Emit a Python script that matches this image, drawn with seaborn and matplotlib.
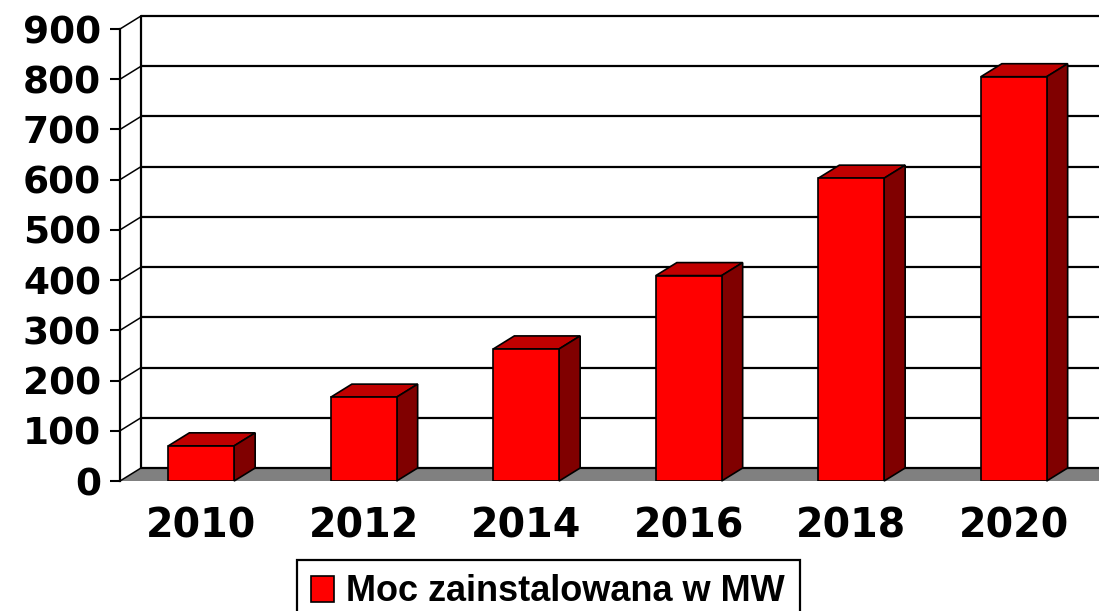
import matplotlib
matplotlib.use("Agg")
import matplotlib.pyplot as plt
from matplotlib.patches import Polygon, Patch
import seaborn as sns
import pandas as pd

years = ["2010", "2012", "2014", "2016", "2018", "2020"]
values = [70, 167, 263, 409, 603, 805]
y_ticks = [0, 100, 200, 300, 400, 500, 600, 700, 800, 900]
legend_label = "Moc zainstalowana w MW"

sns.set_theme(style="white")
plt.rcParams["font.family"] = ["DejaVu Sans"]
plt.rcParams["font.weight"] = "bold"
plt.rcParams["text.color"] = "black"
plt.rcParams["xtick.color"] = "black"
plt.rcParams["ytick.color"] = "black"
plt.rcParams["xtick.labelcolor"] = "black"
plt.rcParams["ytick.labelcolor"] = "black"

W, H = 1099, 611
fig = plt.figure(figsize=(W / 100, H / 100), dpi=100)
ax = fig.add_axes([120 / W, 130 / H, 975 / W, 452 / H])
ax.set_facecolor("none")
fig.patch.set_facecolor("white")

df = pd.DataFrame({"Rok": years, "Moc": values})
sns.barplot(data=df, x="Rok", y="Moc", color="#FF0000", saturation=1, width=0.405,
            edgecolor="black", linewidth=1.2, ax=ax, zorder=6)

ax.set_xlim(-0.5, 5.5)
ax.set_ylim(0, 900)

# depth of 3D effect in data units (21 px right, 13 px up)
dx = 21 / 975 * 6
dy = 13 / 452 * 900

# floor
ax.add_patch(Polygon([(-0.5, 0), (5.5 + 1, 0), (5.5 + 1 + dx, dy), (-0.5 + dx, dy)],
                     closed=True, facecolor="#808080", edgecolor="none", zorder=1, clip_on=False))
# back wall gridlines and side-wall diagonals
for v in y_ticks:
    ax.plot([-0.5 + dx, 7], [v + dy, v + dy], color="black", lw=1.6, zorder=2,
            clip_on=False, solid_capstyle="butt")
    ax.plot([-0.5, -0.5 + dx], [v, v + dy], color="black", lw=1.1, zorder=2, clip_on=False)
# back wall left edge
ax.plot([-0.5 + dx, -0.5 + dx], [dy, 900 + dy], color="black", lw=1.6, zorder=2, clip_on=False)

# 3D top and side faces computed from the seaborn bars
for p in ax.patches:
    if not hasattr(p, "get_width") or p.get_facecolor()[:3] != (1.0, 0.0, 0.0):
        continue
    x0, w, h = p.get_x(), p.get_width(), p.get_height()
    top = Polygon([(x0, h), (x0 + w, h), (x0 + w + dx, h + dy), (x0 + dx, h + dy)],
                  closed=True, facecolor="#C00000", edgecolor="black", lw=1.2, zorder=5, clip_on=False)
    side = Polygon([(x0 + w, 0), (x0 + w + dx, dy), (x0 + w + dx, h + dy), (x0 + w, h)],
                   closed=True, facecolor="#800000", edgecolor="black", lw=1.2, zorder=5, clip_on=False)
    ax.add_patch(top)
    ax.add_patch(side)

# axes styling
for s in ["top", "right", "bottom"]:
    ax.spines[s].set_visible(False)
ax.spines["left"].set_color("black")
ax.spines["left"].set_linewidth(1.6)
ax.spines["left"].set_zorder(3)
ax.set_yticks(y_ticks)
ax.set_yticklabels([str(v) for v in y_ticks], fontsize=27, fontweight="bold", color="black")
ax.tick_params(axis="y", direction="out", length=7.2, width=1.5, color="black", pad=6.5, left=True)
ax.set_xticks(range(len(years)))
ax.set_xticklabels(years, fontsize=28.5, fontweight="bold", color="black")
ax.tick_params(axis="x", length=0, pad=18)
ax.set_xlabel("")
ax.set_ylabel("")
ax.grid(False)

handle = Patch(facecolor="#FF0000", edgecolor="black", linewidth=1.2)
leg = fig.legend([handle], [legend_label], loc="upper left",
                 bbox_to_anchor=(297 / W, 1 - 560 / H), bbox_transform=fig.transFigure,
                 borderaxespad=0, frameon=True, fancybox=False, edgecolor="black", framealpha=1,
                 prop={"family": "Liberation Sans", "size": 26, "weight": "bold"},
                 handlelength=0.62, handleheight=0.72, handletextpad=0.35, borderpad=0.4)
leg.get_frame().set_linewidth(1.6)
leg.get_frame().set_edgecolor("black")
for t in leg.get_texts():
    t.set_color("black")

fig.savefig("out.png", dpi=100)
